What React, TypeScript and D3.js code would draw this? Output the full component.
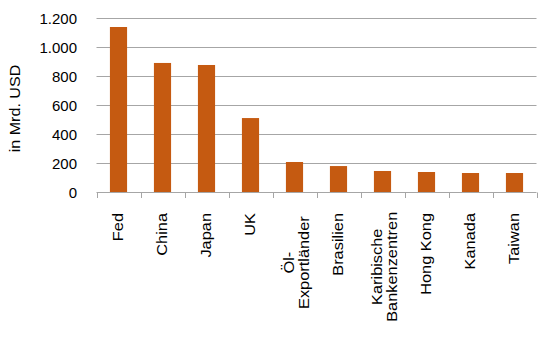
import React from "react";
import * as d3 from "d3";

const categories: string[][] = [
  ["Fed"],
  ["China"],
  ["Japan"],
  ["UK"],
  ["Öl-", "Exportländer"],
  ["Brasilien"],
  ["Karibische", "Bankenzentren"],
  ["Hong Kong"],
  ["Kanada"],
  ["Taiwan"],
];
const values: number[] = [1140, 892, 878, 512, 209, 181, 147, 140, 133, 133];
const yTicks: number[] = [0, 200, 400, 600, 800, 1000, 1200];
const yLabel = "in Mrd. USD";

const W = 545;
const H = 345;
const left = 96.5;
const right = 536.5;
const top = 18.3;
const bottom = 192.3;
const font = "Liberation Sans, Arial, sans-serif";
const grid = "#a6a6a6";
const barColor = "#C55A11";
const fs = 14;
const stretch = 1.17;

export default function App() {
  const keys = categories.map((c, i) => String(i));
  const x = d3.scaleBand<string>().domain(keys).range([left, right]).paddingInner(0).paddingOuter(0);
  const y = d3.scaleLinear().domain([0, 1200]).range([bottom, top]);
  const bw = x.bandwidth();
  const barW = bw * 0.39;
  const fmt = (v: number) => d3.format(",")(v).replace(/,/g, ".");

  return (
    <svg width={W} height={H} style={{ position: "absolute", left: 0, top: 0 }}>
      <rect width={W} height={H} fill="#fff" />
      {yTicks.map((t) => (
        <g key={t}>
          {t > 0 && (
            <line x1={left} x2={right} y1={Math.round(y(t)) + 0.5} y2={Math.round(y(t)) + 0.5} stroke={grid} strokeWidth={1} />
          )}
          <text x={77} y={y(t)} dy="0.36em" textAnchor="end" fontFamily={font} fontSize={15} fill="#000">
            {fmt(t)}
          </text>
        </g>
      ))}
      {values.map((v, i) => {
        const cx = (x(String(i)) as number) + bw / 2;
        return <rect key={i} x={cx - barW / 2} y={y(v)} width={barW} height={bottom - y(v)} fill={barColor} />;
      })}
      <line x1={left} x2={right} y1={Math.round(bottom) + 0.5} y2={Math.round(bottom) + 0.5} stroke={grid} strokeWidth={1} />
      {d3.range(keys.length + 1).map((i) => {
        const xx = Math.round(left + i * bw) + 0.5;
        return <line key={i} x1={xx} x2={xx} y1={Math.round(bottom) + 0.5} y2={Math.round(bottom) + 6} stroke={grid} strokeWidth={1} />;
      })}
      {categories.map((lines, i) => {
        const cx = (x(String(i)) as number) + bw / 2;
        const n = lines.length;
        const lh = 15;
        if (n === 1) {
          return (
            <text key={i} transform={`translate(${cx},213) rotate(-90) scale(${stretch},1)`} dy="0.35em" textAnchor="end" fontFamily={font} fontSize={fs} fill="#000">
              {lines[0]}
            </text>
          );
        }
        // block: longest line starts at top (213), lines centred on each other
        const longest = d3.max(lines, (l) => l.length) as number;
        const approxEm = 0.505;
        const blockLen = longest * approxEm * fs * stretch;
        const midY = 213 + blockLen / 2;
        return (
          <g key={i}>
            {lines.map((ln, j) => {
              const off = (j - (n - 1) / 2) * lh + 2;
              return (
                <text key={j} transform={`translate(${cx + off},${midY}) rotate(-90) scale(${stretch},1)`} dy="0.35em" textAnchor="middle" fontFamily={font} fontSize={fs} fill="#000">
                  {ln}
                </text>
              );
            })}
          </g>
        );
      })}
      <text transform={`translate(15,108.5) rotate(-90) scale(1.15,1)`} dy="0.35em" textAnchor="middle" fontFamily={font} fontSize={14} fill="#000">
        {yLabel}
      </text>
    </svg>
  );
}
